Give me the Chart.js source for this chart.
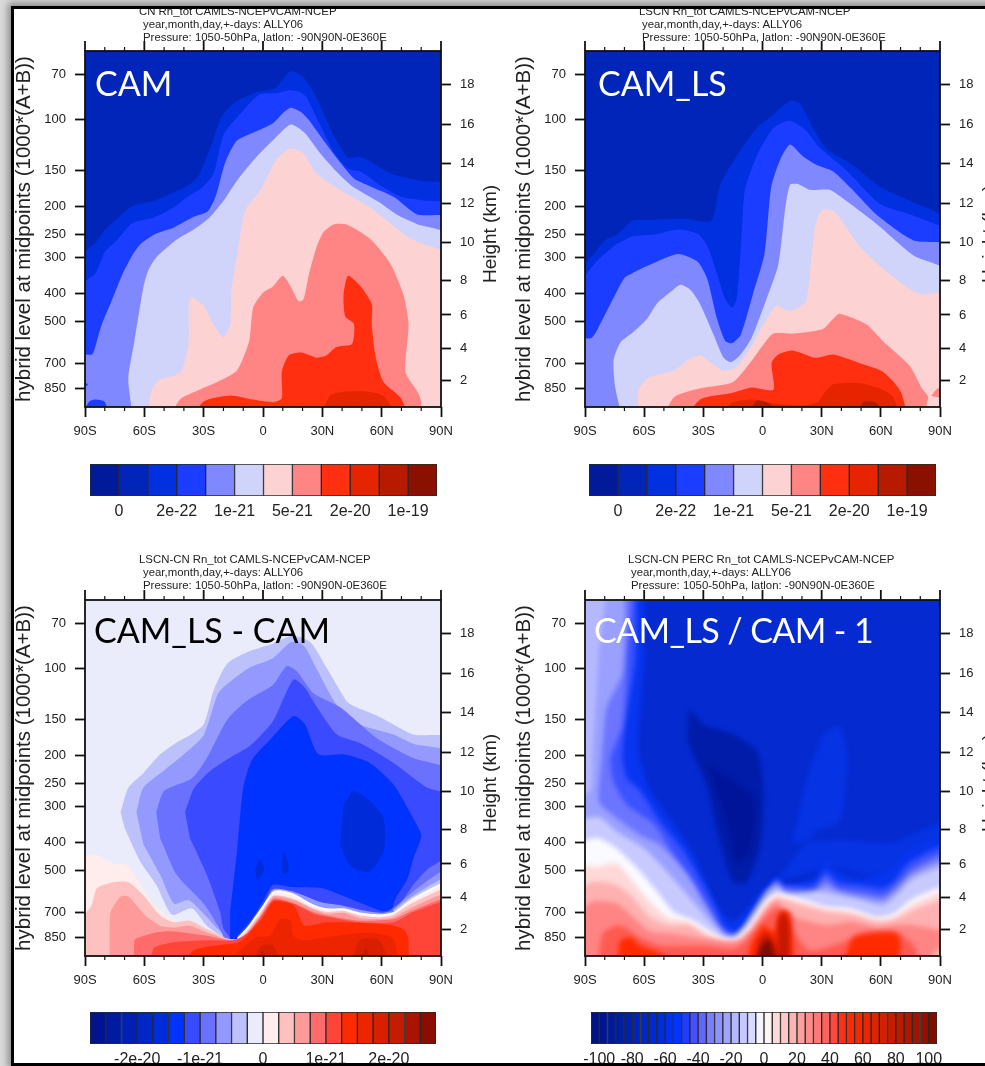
<!DOCTYPE html>
<html>
<head>
<meta charset="utf-8">
<title>Rn_tot CAM vs CAM_LS</title>
<script src="https://cdn.jsdelivr.net/npm/chart.js@4/dist/chart.umd.js"></script>
<style>
  html, body { margin: 0; padding: 0; width: 985px; height: 1066px; overflow: hidden; background: #dadada; }
  #frame { position: absolute; left: 11px; top: 6px; width: 1000px; height: 1060px; box-sizing: border-box;
           background: #fff; border: 3px solid #000; box-shadow: 0 0 7px 3px #8a8a8a; }
  #content { position: absolute; left: 0; top: 0; width: 985px; height: 1066px; clip-path: inset(9px 0 3px 14px); filter: blur(0.6px); }
  canvas { position: absolute; }
  .runTitle { position: absolute; font: 11.4px "Liberation Sans", Arial, sans-serif; color: #222; white-space: pre; line-height: 12.7px; }
  .tag { position: absolute; font: 34px Lato, sans-serif; white-space: pre; }
  #edge { position: absolute; left: 11px; top: 6px; width: 1000px; height: 1060px; box-sizing: border-box; border: 3px solid #000; }
</style>
</head>
<body>
<div id="frame"></div>
<div id="content"></div>
<div id="edge"></div>
<script>
// axes
const latTicks = [-90, -60, -30, 0, 30, 60, 90];
const latLabels = ['90S', '60S', '30S', '0', '30N', '60N', '90N'];
const pressureTicks = [70, 100, 150, 200, 250, 300, 400, 500, 700, 850];
const heightLabels = [18, 16, 14, 12, 10, 8, 6, 4, 2];
const heightAtPressure = [75.5, 103.7, 142, 194.6, 266, 359, 474, 620, 800];
const pTop = 57.9;
const pBottom = 987;

// colour bars
const cbColors12 = ['#001a99', '#0025b8', '#0030e0', '#1a3dff', '#8088ff', '#d0d4fa', '#fdd2d2', '#ff8585', '#ff2f10', '#e62400', '#b81a00', '#8a1000'];
const cbTicks12 = [1, 3, 5, 7, 9, 11];
const cbLabels12 = ['0', '2e-22', '1e-21', '5e-21', '2e-20', '1e-19'];
const cbColors22 = ['#00148f', '#001aa0', '#0020b5', '#0026c5', '#002bd8', '#0033ff', '#3a4bff', '#6a70ff', '#9499ff', '#bcc0fb', '#eaebfb', '#ffecec', '#ffc0c0', '#ff9a9a', '#ff6b6b', '#ff4538', '#ff2a00', '#ec2400', '#d82000', '#c41c00', '#a81400', '#8a0e00'];
const cbTicks22 = [3, 7, 11, 15, 19];
const cbLabels22 = ['-2e-20', '-1e-21', '0', '1e-21', '2e-20'];
const cbColors42 = ['#001288', '#001690', '#001a98', '#001ea0', '#0021ac', '#0024b8', '#0027c4', '#002ad0', '#002ddc', '#0030f0', '#0033ff', '#1f3cff', '#4450ff', '#5f68ff', '#7880ff', '#8c92ff', '#a0a4ff', '#b4b8ff', '#c6c8ff', '#d8daff', '#f5f5ff', '#fff5f5', '#ffdada', '#ffc8c8', '#ffb4b4', '#ffa0a0', '#ff8c8c', '#ff7878', '#ff6060', '#ff4840', '#ff3018', '#ff2a00', '#f62800', '#ea2500', '#de2300', '#d22000', '#c61d00', '#ba1b00', '#ae1800', '#a01400', '#921000', '#820c00'];
const cbTicks42 = [1, 5, 9, 13, 17, 21, 25, 29, 33, 37, 41];
const cbLabels42 = ['-100', '-80', '-60', '-40', '-20', '0', '20', '40', '60', '80', '100'];

// CAM contours, [lat, hPa]
const camC3 = [[-90,307],[-85,268],[-80,241],[-73,218],[-66,199],[-55,191],[-45,178],[-38,169],[-33,158],[-26,122],[-21,98],[-14,87],[-2,80],[6,78],[14,68],[20,71],[26,81],[32,100],[37,118],[43,135],[50,135],[65,154],[80,163],[90,170]];
const camC4 = [[-90,381],[-85,342],[-80,287],[-74,262],[-66,228],[-55,218],[-45,201],[-38,185],[-30,170],[-25,154],[-20,113],[-13,98],[-2,82],[7,81],[14,79],[21,82],[26,95],[36,130],[43,148],[50,152],[60,170],[70,185],[80,190],[90,199]];
const camC4a = [[-90,787],[-88.5,825],[-90,871]];
const camC4b = [[-90,987],[-88,948],[-85,930],[-80,948],[-76,987]];
const camC5 = [[-90,633],[-86.6,650],[-84,583],[-81.5,511],[-77,431],[-71,342],[-66,294],[-62,270],[-54,248],[-45,236],[-35,217],[-28,208],[-24,185],[-20,147],[-18,135],[-13,118],[-1,108],[5,103],[10,95],[14,91],[19,94],[23,100],[29,114],[37,135],[46,160],[54,170],[66,185],[78,213],[90,220]];
const camC6 = [[-65,987],[-68,825],[-68,762],[-65,583],[-60.5,381],[-58,333],[-54,300],[-43.6,260],[-35,240],[-27,218],[-20,191],[-13,162],[-3,134],[5,118],[14,104],[21,111],[29,131],[37,151],[45,170],[57.6,191],[68,214],[78,230],[90,255]];
const camC7 = [[-58.5,987],[-57,890],[-53,800],[-45,770],[-41,735],[-37.7,600],[-37.5,435],[-36,410],[-34.3,417],[-30,441],[-25,511],[-20,568],[-16.6,511],[-16,391],[-13,294],[-9,206],[-1.4,176],[7,137],[14,126],[20.5,131],[26.5,152],[37,172],[54,201],[74.5,258],[90,305]];
const camC8 = [[-50,987],[-42,930],[-32,860],[-20,790],[-13,735],[-7,583],[-5,447],[0,397],[5,378],[10,347],[14,378],[18,425],[20.5,418],[23,348],[27,277],[30.6,245],[36,230],[42.5,231],[54,258],[64.4,315],[71,403],[73.6,511],[72,745],[78,871],[80,945],[79,987]];
const camC9 = [[-39.4,987],[-30,945],[-16.6,900],[-5,930],[5,950],[9.5,920],[9.5,745],[13,655],[19,640],[24,655],[27,667],[32,655],[37,612],[45,597],[46,510],[41.6,480],[40.7,405],[43,347],[49,375],[55,435],[55,511],[57,667],[61,810],[70,925],[74.5,987]];
const camC10 = [[28,987],[34,900],[49,871],[61,905],[71,987]];

// CAM_LS contours
const lsC3 = [[-90,340],[-86,294],[-80,262],[-73,248],[-66,224],[-55,222],[-40,220],[-26,224],[-21.5,168],[-11,127],[-3,107],[5.5,96],[14,86],[19,88],[26,108],[32.7,127],[39,135],[46,144],[59,170],[74,190],[90,230]];
const lsC4 = [[-90,391],[-84,309],[-75,273],[-66,254],[-55,250],[-43,240],[-33,248],[-28,273],[-23,342],[-19,416],[-15.5,447],[-13,416],[-10.5,248],[-9,176],[-3,134],[5.5,107],[14,101],[22,109],[29,125],[43,151],[59.6,196],[76.7,215],[90,252]];
const lsC5 = [[-90,568],[-86.5,568],[-81,490],[-77,433],[-70,353],[-66,340],[-58,320],[-43,292],[-33,310],[-28,356],[-23,490],[-19,582],[-15.5,594],[-11,555],[-5,405],[1,292],[4.5,170],[9.5,135],[14,122],[20,133],[27,143],[35.7,151],[46,176],[58,214],[76.6,262],[90,275]];
const lsC6 = [[-69.6,987],[-74.6,850],[-75.5,680],[-72,590],[-65,540],[-58.6,490],[-53.5,433],[-46.8,396],[-41.6,373],[-36.6,388],[-31.6,435],[-24.8,555],[-19.8,665],[-16,690],[-11.3,652],[-5.5,568],[2,418],[8,318],[11.6,201],[14,168],[18,167],[24,175],[34,175],[41,188],[58,230],[76.6,295],[90,343]];
const lsC7 = [[-62,987],[-63,871],[-57.8,782],[-45,740],[-38,680],[-31.6,655],[-26,695],[-19.8,740],[-13,718],[-6,615],[0.5,511],[7,440],[14,460],[22,425],[25,292],[27,230],[30,206],[36,207],[42.6,236],[49,274],[66,350],[79,400],[90,405]];
const lsC8 = [[-52.6,987],[-45,915],[-31.6,850],[-15,810],[-6,690],[0.5,600],[5.5,550],[15.6,550],[30.7,530],[35.7,490],[39,470],[52.6,511],[61,583],[74.6,710],[80.8,850],[84,915],[79,987]];
const lsC8b = [[85.5,905],[89,850],[90,850],[90,925],[87.5,910]];
const lsC9 = [[-42.5,987],[-31.6,930],[-16,885],[-5.5,845],[5.5,860],[4.6,695],[8,650],[15.6,630],[27,667],[35.7,650],[49,695],[61,745],[70,871],[75,987]];
const lsC10 = [[-28,987],[-16,960],[-5,930],[5.5,960],[20,975],[28,950],[30.7,895],[35.7,825],[49,815],[59,850],[66,908],[72,987]];
const lsC11a = [[-12,987],[-3,940],[5,975],[12,987]];
const lsC11b = [[46,987],[51,950],[58,958],[65,987]];

// CAM_LS - CAM contours
const diffB10 = [[-72,314],[-68,258],[-60.5,230],[-52,198],[-43.6,180],[-37,170],[-30,156],[-25,119],[-18,96],[-6.6,87],[5,82],[14.6,77],[24,81],[32,99],[42.4,130],[46,135],[59,147],[76,169],[90,176],[90,987],[-15,987],[-17,860],[-20,850],[-28.4,775],[-36,675],[-46,710],[-54,560],[-62,466],[-70,355]];
const diffB9 = [[-64,314],[-60.5,258],[-50,225],[-38.5,194],[-30,170],[-23,123],[-20,116],[-6.6,99],[5,92],[14,81],[20.5,83],[27,100],[37.4,134],[49,156],[66,169],[76,182],[90,199],[90,987],[-15,987],[-18,860],[-23,795],[-30,705],[-37.7,632],[-45,650],[-52,517],[-60.5,405]];
const diffB8 = [[-54,314],[-50,265],[-36,240],[-28.4,204],[-18,150],[-8,129],[5,114],[12,98],[17,102],[25.6,122],[39,136],[57.6,174],[76,204],[90,230],[90,987],[-15,987],[-20,845],[-23,772],[-30,650],[-43.6,517],[-52,386]];
const diffB7 = [[-39.4,314],[-35,260],[-27,227],[-18,206],[-6.6,185],[5,152],[15.4,109],[21,116],[27,135],[37.4,169],[49,181],[66,212],[83,258],[90,280],[90,987],[-15,987],[-16.6,860],[-20,795],[-21.7,695],[-28.4,517],[-37,385]];
const diffB6 = [[-16.6,695],[-13,418],[-10,258],[-5.6,207],[5,172],[15.4,146],[21,155],[28,198],[40.7,198],[54,212],[66,252],[76,330],[80,378],[76,455],[73,535],[66,650],[60,987],[-15,987],[-16.6,860]];
const diffB5a = [[40.7,296],[45.8,265],[54,287],[61,330],[61,430],[53.4,505],[44,480],[39,405]];
const diffB5b = [[-4,498],[-1.5,455],[0.5,498],[-3,545]];
const diffB5c = [[9.5,472],[10.7,430],[13,485],[12,511],[10,511]];
const diffEdgeB8 = [[62,700],[70,640],[76,560],[84,490],[90,453]];
const diffEdgeB9 = [[64,700],[76,590],[90,490]];
const diffEdgeB10 = [[64,705],[76,610],[90,525]];
const diffMidB7 = [[-13,840],[-6,740],[0,640],[5,560],[15,570],[30,575],[40,610],[50,650],[60,690],[66,690]];
const diffMidB9 = [[-13,850],[-6,760],[0,665],[5,580],[15,590],[30,645],[40,660],[50,685],[60,700],[66,695]];
const diffW0 = [[-13,855],[-8,785],[-1.5,680],[5,590],[8.7,585],[15.4,600],[25.5,655],[32,675],[40.7,675],[49,698],[59,708],[66,695],[76,620],[90,545]];
const diffW1 = [[-90,453],[-84,441],[-75.7,472],[-69,478],[-62,555],[-55.4,650],[-45,745],[-35,775],[-28.4,818],[-18,860],[-13,862],[-8,798],[-1.5,695],[5.3,600],[8.7,597],[15.4,610],[25.5,667],[32.3,685],[40.7,685],[49,710],[59.3,721],[66,707],[76,632],[90,560]];
const diffW2 = [[-90,775],[-87,667],[-84,575],[-75.7,548],[-68,548],[-60.5,608],[-52,715],[-45,755],[-37,745],[-30,787],[-18,860],[-13,864],[-8,805],[-1.5,705],[5.3,610],[15.4,625],[25.5,675],[32.3,695],[40.7,690],[49,715],[59.3,725],[66,710],[76,645],[90,575]];
const diffW3 = [[-77.5,987],[-77.5,775],[-77,695],[-72,615],[-68,615],[-59.5,715],[-52,775],[-45,787],[-37,775],[-28.4,818],[-18,864],[-13,868],[-8,818],[-1.5,715],[5.3,615],[15.4,632],[25.5,680],[32.3,705],[40.7,700],[49,730],[59.3,735],[66,725],[76,667],[90,600]];
const diffW4 = [[-65,987],[-65,871],[-62.5,850],[-54,818],[-47,810],[-28.4,840],[-18,871],[-13,875],[-8,825],[-1.5,725],[5.3,625],[15.4,648],[25.5,695],[32.3,715],[49,745],[66,735],[76,685],[90,625]];
const diffW5 = [[-56,987],[-55.4,930],[-45,885],[-28,871],[-15,871],[-8,825],[-1.5,735],[5.3,632],[15.4,650],[25.5,705],[32.3,722],[49,755],[66,755],[76,695],[90,642]];
const diffW6 = [[-47,987],[-35,945],[-22,905],[-12,885],[-6,810],[0,725],[5.3,640],[15.4,658],[21,775],[32,755],[49,758],[66,775],[71,798],[73.5,860],[73.5,987]];
const diffW7 = [[-27,987],[-10,920],[-3,850],[3.5,840],[8.7,735],[14,745],[15.4,840],[20.5,871],[37.4,840],[53,818],[66,860],[69.5,987]];
const diffW8a = [[-8,987],[-1.5,920],[5,905],[12,987]];
const diffW8b = [[42.4,987],[49,871],[59,871],[66,987]];
const diffW9a = [[-5,987],[0,945],[5,987]];
const diffW9b = [[47,987],[52,930],[57,987]];
const diffCorner = [[80,987],[90,930],[90,987]];

// CAM_LS / CAM - 1 contours
const percDark = [[-37.5,137],[-30,156],[-16.4,167],[-3,193],[0.5,265],[-1,408],[-8,546],[-15,546],[-23,366],[-28,258],[-38,178]];
const percDarker = [[-28,215],[-14.7,245],[-4.5,280],[-6,428],[-13,466],[-18,346]];
const percBright = [[22.5,239],[31,169],[39.4,159],[43,204],[39.4,337],[27.6,366],[15.7,453],[7.3,546],[32.6,490],[66.4,532],[90,408],[90,330],[66,400],[40,391],[15,400]];
const percLevelA = [[-90,58],[-63,58],[-60,91],[-62,137],[-63,193],[-57,265],[-45,346],[-35,441],[-28,561],[-21,695],[-15,752],[-9,695],[-1,590],[3,561],[6.5,532],[10.7,561],[26,532],[32,466],[38,504],[49.5,532],[59.7,517],[66.4,490],[75,428],[90,391]];
const percLevelB = [[-90,58],[-66.8,58],[-64.5,91],[-69.6,156],[-71,204],[-68.7,239],[-62,265],[-52,337],[-40,428],[-30,561],[-23,695],[-20,772],[-15,817],[-9.6,787],[-1,640],[4.8,561],[7.3,532],[10.7,561],[26,561],[32,504],[38,546],[49.5,561],[61,575],[66.4,546],[75,466],[90,412]];
const percLevelC = [[-90,58],[-68,58],[-68.7,91],[-71,156],[-77,204],[-75.5,246],[-68.7,296],[-55,346],[-45,441],[-35,561],[-26.5,695],[-21,797],[-16,831],[-11,817],[-3,675],[4,575],[7.3,546],[10.7,575],[26,583],[32,532],[38,575],[49.5,590],[61,607],[68,561],[76.5,490],[90,435]];
const percLevelD = [[-90,58],[-72,58],[-71,103],[-79,137],[-81.5,204],[-83,288],[-78,313],[-62,377],[-52,408],[-38,518],[-30,640],[-23,772],[-18,840],[-13,840],[-4.5,695],[2,590],[7.3,561],[10.7,590],[26,598],[32,561],[38,590],[49.5,615],[61,632],[68,583],[76.5,511],[90,460]];
const percEdge = [[-90,58],[-80,58],[-83,90],[-86,201],[-87,262],[-90,290]];
const percLevelE = [[-90,337],[-83,327],[-74,366],[-60,419],[-48.4,504],[-36.6,623],[-26.5,752],[-19.7,840],[-14.7,852],[-8,772],[0.5,640],[7.3,575],[12.4,607],[29,590],[38,607],[49.5,632],[61,658],[68,607],[76.5,532],[90,485]];
const percLevelF = [[-90,408],[-84,385],[-74,419],[-63.6,490],[-53.5,590],[-45,695],[-35,742],[-26.5,810],[-19.7,860],[-13,863],[-6,772],[2.2,632],[7.3,600],[19,623],[32.6,667],[44.5,676],[58,725],[66.4,705],[76.5,623],[90,568]];
const percLevelG = [[-90,472],[-84,485],[-74,472],[-67,532],[-58.6,623],[-48.4,725],[-38.3,752],[-30,810],[-19.7,871],[-13,871],[-6,787],[2.2,650],[7.3,612],[19,640],[32.6,676],[44.5,690],[58,738],[66.4,725],[76.5,650],[90,590]];
const percLevelH = [[-90,590],[-85.8,546],[-74,561],[-65.6,623],[-57,725],[-47,772],[-37,772],[-28.6,840],[-19.7,878],[-13,878],[-6,797],[2.2,667],[7.3,623],[19,658],[32.6,695],[44.5,710],[58,752],[66.4,742],[76.5,685],[90,632]];
const percLevelI = [[-90,716],[-85.8,640],[-74,650],[-65.6,725],[-57,810],[-47,825],[-30,860],[-18,883],[-11,871],[-4.5,797],[2.2,685],[7.3,640],[12,695],[19,735],[32.6,772],[44.5,752],[58,787],[66.4,772],[76.5,772],[90,840]];
const percLevelJ = [[-84,987],[-81,825],[-72.5,772],[-61,860],[-51,908],[-30.6,908],[-15,932],[-9,883],[-3.6,797],[3,705],[7,676],[13.7,695],[15.5,797],[24,945],[41,883],[51,817],[68,817],[76.5,908],[81.5,987]];
const percK1 = [[-72.5,987],[-72.5,883],[-67,850],[-62,908],[-52,966],[-35,987]];
const percK2 = [[39,987],[45.6,860],[56,825],[68,825],[70,908],[66.4,987]];
const percK3 = [[-8.7,987],[-6,908],[0.5,772],[5.7,817],[9,695],[13.7,705],[15.4,908],[17,987]];
const percL1 = [[-4.6,987],[-1.4,871],[2,817],[7,908],[10.7,987]];
const percL2 = [[7.3,987],[8,735],[11,695],[13.7,772],[13.7,987]];
const percM = [[-4.6,987],[-0.6,908],[3.6,871],[8.7,987]];
const percCorner1 = [[76,987],[90,845],[90,987]];
const percCorner2 = [[84,987],[90,935],[90,987]];

const band = (points, color) => ({ points: [...points, [points[points.length - 1][0], pBottom], [points[0][0], pBottom]], color });
const blob = (points, color) => ({ points, color });

const camLayers = [
  band(camC3, cbColors12[2]), band(camC4, cbColors12[3]),
  band(camC5, cbColors12[4]), blob(camC4a, cbColors12[3]), blob(camC4b, cbColors12[3]), band(camC6, cbColors12[5]),
  band(camC7, cbColors12[6]), band(camC8, cbColors12[7]), band(camC9, cbColors12[8]), band(camC10, cbColors12[9])
];
const lsLayers = [
  band(lsC3, cbColors12[2]), band(lsC4, cbColors12[3]), band(lsC5, cbColors12[4]), band(lsC6, cbColors12[5]),
  band(lsC7, cbColors12[6]), band(lsC8, cbColors12[7]), blob(lsC8b, cbColors12[7]), band(lsC9, cbColors12[8]),
  band(lsC10, cbColors12[9]), band(lsC11a, cbColors12[10]), band(lsC11b, cbColors12[10])
];
const diffLayers = [
  blob(diffB10, cbColors22[9]), blob(diffB9, cbColors22[8]), blob(diffB8, cbColors22[7]), blob(diffB7, cbColors22[6]), blob(diffB6, cbColors22[5]),
  blob(diffB5a, cbColors22[4]), blob(diffB5b, cbColors22[4]), blob(diffB5c, cbColors22[4]),
  band(diffEdgeB8, cbColors22[7]), band(diffEdgeB9, cbColors22[8]), band(diffEdgeB10, cbColors22[9]),
  band(diffMidB7, cbColors22[6]), band(diffMidB9, cbColors22[8]), band(diffW0, '#fbfbff'),
  band(diffW1, cbColors22[11]), band(diffW2, cbColors22[12]), band(diffW3, cbColors22[13]), band(diffW4, cbColors22[14]),
  band(diffW5, cbColors22[15]), band(diffW6, cbColors22[16]), band(diffW7, cbColors22[17]),
  band(diffW8a, cbColors22[18]), band(diffW8b, cbColors22[18]), band(diffW9a, cbColors22[19]), band(diffW9b, cbColors22[19]),
  band(diffCorner, cbColors22[12])
];
const percLayers = [
  blob(percDark, '#001ca8'), blob(percDarker, '#00149a'), blob(percBright, '#0633e4'),
  band(percLevelA, '#0836f0'), band(percLevelB, '#3a52ff'), band(percLevelC, '#6c75ff'), band(percLevelD, '#9aa0ff'), blob(percEdge, '#b6b8ff'),
  band(percLevelE, '#c8caff'), band(percLevelF, '#fafaff'), band(percLevelG, '#ffd8d8'), band(percLevelH, '#ffb0b0'), band(percLevelI, '#ff8484'),
  band(percLevelJ, '#ff5a50'), band(percK1, '#ff2a00'), band(percK2, '#ff2a00'), band(percK3, '#ff2a00'),
  band(percL1, '#c81800'), band(percL2, '#c81800'), band(percM, '#7d0c00'),
  band(percCorner1, '#ffb0b0'), band(percCorner2, '#ffffff')
];

const content = document.getElementById('content');
Chart.defaults.color = '#222';
Chart.defaults.font.family = '"Liberation Sans", Arial, sans-serif';

// plot background, blur for the smooth field, frame and the ticks Chart.js cannot do
const panelPlugin = {
  id: 'panelPlugin',
  beforeDatasetsDraw(chart, args, opts) {
    const { ctx, chartArea: a } = chart;
    ctx.fillStyle = opts.bg;
    ctx.fillRect(a.left, a.top, a.width, a.height);
    ctx.filter = 'blur(' + opts.blur + 'px)';
  },
  afterDatasetsDraw(chart) {
    chart.ctx.filter = 'none';
  },
  afterDraw(chart) {
    const { ctx, chartArea: a, scales } = chart;
    ctx.save();
    ctx.strokeStyle = '#111';
    ctx.lineWidth = 1.8;
    ctx.strokeRect(a.left, a.top, a.width, a.height);
    for (let lat = -90; lat <= 90; lat += 10) {
      const x = scales.x.getPixelForValue(lat);
      const major = lat % 30 === 0;
      ctx.lineWidth = major ? 1.8 : 1.2;
      ctx.beginPath();
      ctx.moveTo(x, a.top);
      ctx.lineTo(x, a.top - (major ? 10 : 4));
      if (!major) {
        ctx.moveTo(x, a.bottom);
        ctx.lineTo(x, a.bottom + 4);
      }
      ctx.stroke();
    }
    // right hand title reads upward like the left one
    ctx.translate(a.right + 50, (a.top + a.bottom) / 2 + 5);
    ctx.rotate(-Math.PI / 2);
    ctx.fillStyle = '#222';
    ctx.font = '19px "Liberation Sans", Arial, sans-serif';
    ctx.textAlign = 'center';
    ctx.textBaseline = 'middle';
    ctx.fillText('Height (km)', 0, 0);
    ctx.restore();
  }
};

function addCanvas(left, top, width, height) {
  const c = document.createElement('canvas');
  c.width = width;
  c.height = height;
  c.style.left = left + 'px';
  c.style.top = top + 'px';
  content.appendChild(c);
  return c;
}

function noPadding(s) {
  s.paddingTop = 0;
  s.paddingBottom = 0;
  s.paddingLeft = 0;
  s.paddingRight = 0;
}

function drawPanel(plotLeft, plotTop, plotWidth, bg, blur, layers) {
  const left = addCanvas(plotLeft - 73, plotTop - 12, 73 + plotWidth + 61, 12 + 356 + 38);
  const datasets = layers.map((l, i) => ({
    data: l.points.map(([lat, p]) => ({
      x: lat <= -90 ? -96 : lat >= 90 ? 96 : lat,
      y: p >= pBottom ? 1180 : p <= 58 ? 48 : p
    })),
    backgroundColor: l.color,
    fill: 'shape',
    showLine: true,
    pointRadius: 0,
    borderWidth: 0,
    tension: 0.22,
    order: layers.length - i
  }));
  const tickGrid = { drawOnChartArea: false, tickLength: 10, tickWidth: 1.8, tickColor: '#111' };
  const yBase = { type: 'logarithmic', reverse: true, min: pTop, max: pBottom, border: { display: false }, grid: tickGrid };
  new Chart(left, {
    type: 'scatter',
    data: { datasets },
    plugins: [panelPlugin],
    options: {
      responsive: false,
      animation: false,
      events: [],
      layout: { padding: { top: 12 } },
      plugins: { legend: { display: false }, tooltip: { enabled: false }, panelPlugin: { bg, blur } },
      scales: {
        x: {
          type: 'linear', min: -90, max: 90,
          border: { display: false }, grid: tickGrid,
          afterBuildTicks(s) { s.ticks = latTicks.map(v => ({ value: v })); },
          afterFit(s) { s.height = 38; noPadding(s); },
          ticks: { autoSkip: false, maxRotation: 0, padding: 7, font: { size: 13 }, callback: (v, i) => latLabels[i] }
        },
        y: {
          ...yBase,
          position: 'left',
          title: { display: true, text: 'hybrid level at midpoints (1000*(A+B))', font: { size: 20.5 }, padding: 0 },
          afterBuildTicks(s) { s.ticks = pressureTicks.map(v => ({ value: v })); },
          afterFit(s) { s.width = 73; noPadding(s); },
          ticks: { autoSkip: false, padding: 9, font: { size: 13 }, callback: v => String(v) }
        },
        yHeight: {
          ...yBase,
          position: 'right',
          afterBuildTicks(s) { s.ticks = heightAtPressure.map(v => ({ value: v })); },
          afterFit(s) { s.width = 61; noPadding(s); },
          ticks: { autoSkip: false, padding: 9, font: { size: 13 }, callback: (v, i) => String(heightLabels[i]) }
        }
      }
    }
  });
}

function drawColorbar(barLeft, barTop, barWidth, colors, tickAt, tickLabels) {
  const c = addCanvas(barLeft - 30, barTop, barWidth + 60, 32 + 30);
  new Chart(c, {
    type: 'bar',
    data: {
      labels: ['bar'],
      datasets: colors.map(color => ({
        data: [1], backgroundColor: color, borderColor: '#2a2a2a', borderWidth: 1, borderSkipped: false,
        barPercentage: 1, categoryPercentage: 1
      }))
    },
    options: {
      indexAxis: 'y',
      responsive: false,
      animation: false,
      events: [],
      layout: { padding: { left: 30, right: 30 } },
      plugins: { legend: { display: false }, tooltip: { enabled: false } },
      scales: {
        x: {
          type: 'linear', stacked: true, min: 0, max: colors.length,
          border: { display: false }, grid: { display: false, drawTicks: false },
          afterBuildTicks(s) { s.ticks = tickAt.map(v => ({ value: v })); },
          afterFit(s) { s.height = 30; noPadding(s); },
          ticks: { autoSkip: false, maxRotation: 0, padding: 6, font: { size: 16 }, callback: (v, i) => tickLabels[i] }
        },
        y: { stacked: true, display: false }
      }
    }
  });
}

function addTitle(left, top, lines) {
  lines.forEach((line, i) => {
    const d = document.createElement('div');
    d.className = 'runTitle';
    d.textContent = line.text;
    d.style.left = (left + line.dx) + 'px';
    d.style.top = (top + i * 12.9) + 'px';
    content.appendChild(d);
  });
}

function addTag(left, baseline, text, color, spacing) {
  const d = document.createElement('div');
  d.className = 'tag';
  d.textContent = text;
  d.style.left = left + 'px';
  d.style.top = (baseline - 33) + 'px';
  d.style.color = color;
  d.style.letterSpacing = spacing + 'px';
  content.appendChild(d);
}

const runLine = 'year,month,day,+-days: ALLY06';
const rangeLine = 'Pressure: 1050-50hPa, latlon: -90N90N-0E360E';

drawPanel(85, 51, 356, cbColors12[1], 0.3, camLayers);
drawPanel(585, 51, 355, cbColors12[1], 0.3, lsLayers);
drawPanel(85, 600, 356, cbColors22[10], 0.3, diffLayers);
drawPanel(585, 600, 355, '#052ad0', 2.4, percLayers);

drawColorbar(90, 464, 347, cbColors12, cbTicks12, cbLabels12);
drawColorbar(589, 464, 347, cbColors12, cbTicks12, cbLabels12);
drawColorbar(90, 1012, 346, cbColors22, cbTicks22, cbLabels22);
drawColorbar(591, 1012, 346, cbColors42, cbTicks42, cbLabels42);

addTitle(139, 5, [{ text: 'CN Rn_tot CAMLS-NCEPvCAM-NCEP', dx: 0 }, { text: runLine, dx: 4 }, { text: rangeLine, dx: 4 }]);
addTitle(639, 5, [{ text: 'LSCN Rn_tot CAMLS-NCEPvCAM-NCEP', dx: 0 }, { text: runLine, dx: 3 }, { text: rangeLine, dx: 3 }]);
addTitle(139, 553, [{ text: 'LSCN-CN Rn_tot CAMLS-NCEPvCAM-NCEP', dx: 0 }, { text: runLine, dx: 4 }, { text: rangeLine, dx: 4 }]);
addTitle(628, 553, [{ text: 'LSCN-CN PERC Rn_tot CAMLS-NCEPvCAM-NCEP', dx: 0 }, { text: runLine, dx: 3 }, { text: rangeLine, dx: 3 }]);

addTag(95, 95, 'CAM', '#fff', 0);
addTag(598, 95, 'CAM_LS', '#fff', 0);
addTag(94, 642, 'CAM_LS - CAM', '#000', 0);
addTag(594, 642, 'CAM_LS / CAM - 1', '#fff', -0.6);
</script>
</body>
</html>
